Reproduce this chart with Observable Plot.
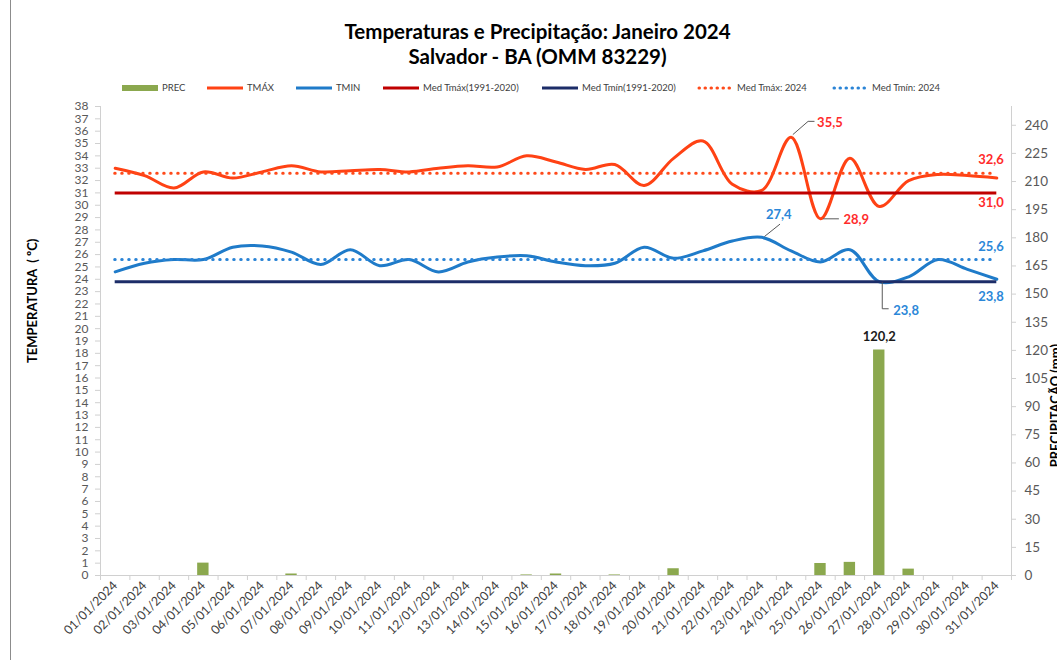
<!DOCTYPE html>
<html><head><meta charset="utf-8">
<script src="https://cdn.jsdelivr.net/npm/d3@7"></script>
<script src="https://cdn.jsdelivr.net/npm/@observablehq/plot@0.6"></script>
<style>
body{margin:0;background:#fff;font-family:Lato,"Liberation Sans",sans-serif;}
#wrap{position:relative;width:1057px;height:660px;overflow:hidden;background:#fff;}
#border{position:absolute;left:10px;top:0;width:0;height:660px;border-left:1px solid #8c8c8c;z-index:5;}
#title{position:absolute;left:0;width:1075px;top:19px;text-align:center;font-weight:bold;font-size:20.5px;line-height:25px;color:#000;}
.leg{position:absolute;top:82px;height:12px;font-size:9.5px;color:#404040;line-height:12px;white-space:nowrap;}
.leg svg{position:absolute;left:0;top:0;}
.leg span{position:absolute;left:40px;top:0;}
#chart{position:absolute;left:0;top:100px;}
</style></head>
<body><div id="wrap">
<div id="title">Temperaturas e Precipitação: Janeiro 2024<br>Salvador - BA (OMM 83229)</div>
<div id="legend"></div>
<div id="chart"></div><div id="border"></div></div>
<script>
// ---- data ----
const days = [1,2,3,4,5,6,7,8,9,10,11,12,13,14,15,16,17,18,19,20,21,22,23,24,25,26,27,28,29,30,31];
const dayLabels = ["01/01/2024","02/01/2024","03/01/2024","04/01/2024","05/01/2024","06/01/2024","07/01/2024","08/01/2024","09/01/2024","10/01/2024","11/01/2024","12/01/2024","13/01/2024","14/01/2024","15/01/2024","16/01/2024","17/01/2024","18/01/2024","19/01/2024","20/01/2024","21/01/2024","22/01/2024","23/01/2024","24/01/2024","25/01/2024","26/01/2024","27/01/2024","28/01/2024","29/01/2024","30/01/2024","31/01/2024"];
const tmax = [33.0,32.4,31.4,32.7,32.2,32.7,33.2,32.7,32.8,32.9,32.7,33.0,33.2,33.1,34.0,33.5,32.9,33.3,31.6,33.8,35.2,31.7,31.2,35.5,28.9,33.8,29.9,32.0,32.5,32.4,32.2];
const tmin = [24.6,25.3,25.6,25.6,26.6,26.7,26.2,25.2,26.4,25.1,25.6,24.6,25.4,25.8,25.9,25.4,25.1,25.3,26.6,25.7,26.3,27.1,27.4,26.3,25.4,26.4,23.8,24.2,25.6,24.8,24.0];
const prec = [0,0,0,6.6,0,0,0.8,0,0,0,0,0,0,0,0.3,0.8,0,0.3,0,3.6,0,0,0,0,6.4,7.0,120.2,3.4,0,0,0];
const medTmax9120 = 31.0;
const medTmin9120 = 23.8;
const medTmax2024 = 32.6;
const medTmin2024 = 25.6;
const tempTicks = [0,1,2,3,4,5,6,7,8,9,10,11,12,13,14,15,16,17,18,19,20,21,22,23,24,25,26,27,28,29,30,31,32,33,34,35,36,37,38];
const precTicks = [0,15,30,45,60,75,90,105,120,135,150,165,180,195,210,225,240];
const tempMax = 38, precMax = 250;
const legendItems = ["PREC","TMÁX","TMIN","Med Tmáx(1991-2020)","Med Tmín(1991-2020)","Med Tmáx: 2024","Med Tmín: 2024"];

// ---- style ----
const C = {prec:"#8ba84e", tmax:"#ff4214", tmin:"#1f7bc9", m1max:"#c00000", m1min:"#1c2d68", m2max:"#ff4a1a", m2min:"#2a84d6", lblRed:"#ff2b2b", lblBlue:"#2b87d8"};
const K = tempMax / precMax;
const W = 1057, H = 560, mL = 100, mR = 46, mT = 6, mB = 85;
const pxX = (W - mL - mR) / days.length, pxY = (H - mT - mB) / tempMax;
const fmt = v => d3.format(".1f")(v).replace(".", ",");
const dot = "0.5,6.5";

// legend
const legKinds = [["rect",C.prec],["line",C.tmax],["line",C.tmin],["line",C.m1max],["line",C.m1min],["dot",C.m2max],["dot",C.m2min]];
const legX = [122, 207, 296, 383, 542, 697, 832];
const legEl = document.getElementById("legend");
legendItems.forEach((lab, i) => {
  const [kind, col] = legKinds[i];
  const d = document.createElement("div");
  d.className = "leg"; d.style.left = legX[i] + "px";
  let sw = "";
  if (kind === "rect") sw = `<rect x="0" y="3" width="36" height="6" fill="${col}"/>`;
  else if (kind === "line") sw = `<line x1="0" x2="36" y1="6" y2="6" stroke="${col}" stroke-width="3"/>`;
  else sw = `<line x1="2" x2="36" y1="6" y2="6" stroke="${col}" stroke-width="3" stroke-dasharray="0.5,5.5" stroke-linecap="round"/>`;
  d.innerHTML = `<svg width="36" height="12">${sw}</svg><span>${lab}</span>`;
  legEl.appendChild(d);
});

const rows = days.map((d, i) => ({day: d, tmax: tmax[i], tmin: tmin[i], prec: prec[i]}));
const maxT = d3.greatest(rows, d => d.tmax);
const minT = d3.least(rows, d => d.tmax);
const maxN = d3.greatest(rows, d => d.tmin);
const minN = d3.least(rows, d => d.tmin);
const maxP = d3.greatest(rows, d => d.prec);
const bounds = d3.range(0.5, days.length + 1, 1);
const first = days[0], last = days[days.length - 1];

function leader(pt, offs) { // offs in pixels
  return offs.map(([ox, oy]) => ({x: pt.x + ox / pxX, y: pt.y - oy / pxY}));
}
const leaders = [
  leader({x: maxT.day, y: maxT.tmax}, [[2,-3],[17,-16],[23,-16]]),
  leader({x: minT.day, y: minT.tmax}, [[3,0],[18,0]]),
  leader({x: maxN.day, y: maxN.tmin}, [[3,-1],[18,-13]]),
  leader({x: minN.day, y: minN.tmin}, [[3,1],[3,27],[9,27]])
];

const lbl = {fontWeight: "bold", fontSize: 13};
const plot = Plot.plot({
  width: W, height: H, marginLeft: mL, marginRight: mR, marginTop: mT, marginBottom: mB,
  style: {fontFamily: "Lato, 'Liberation Sans', sans-serif", background: "transparent", overflow: "visible"},
  x: {type: "linear", domain: [0.5, days.length + 0.5]},
  y: {domain: [0, tempMax]},
  marks: [
    Plot.ruleY([0], {x1: 0.5, x2: days.length + 0.5, stroke: "#d0d0d0", strokeWidth: 1}),
    Plot.ruleX([0.5, days.length + 0.5], {y1: 0, y2: tempMax, stroke: "#d0d0d0", strokeWidth: 1}),
    Plot.axisX(bounds, {tickSize: 5, tickFormat: () => "", stroke: "#d0d0d0"}),
    Plot.axisX(days, {tickSize: 0, tickPadding: 8, tickRotate: -45, textAnchor: "end", tickFormat: d => dayLabels[d - 1], fontSize: 12.5, fill: "#404040"}),
    Plot.axisY(tempTicks, {anchor: "left", tickSize: 5, tickPadding: 7, fontSize: 12, fill: "#595959", stroke: "#d0d0d0", label: null}),
    Plot.axisY(precTicks.map(v => v * K), {anchor: "right", tickSize: 4, tickPadding: 9, fontSize: 13.5, fill: "#595959", stroke: "#d0d0d0", label: null, tickFormat: v => String(Math.round(v / K))}),
    Plot.rectY(rows, {x1: d => d.day - 0.5, x2: d => d.day + 0.5, y1: 0, y2: d => d.prec * K, fill: C.prec, insetLeft: 9, insetRight: 9}),
    Plot.line(rows, {x: "day", y: "tmax", stroke: C.tmax, strokeWidth: 3, curve: "catmull-rom"}),
    Plot.line(rows, {x: "day", y: "tmin", stroke: C.tmin, strokeWidth: 3, curve: "catmull-rom"}),
    Plot.ruleY([medTmax9120], {x1: first, x2: last, stroke: C.m1max, strokeWidth: 3}),
    Plot.ruleY([medTmin9120], {x1: first, x2: last, stroke: C.m1min, strokeWidth: 3}),
    Plot.ruleY([medTmax2024], {x1: first, x2: last, stroke: C.m2max, strokeWidth: 3, strokeDasharray: dot, strokeLinecap: "round"}),
    Plot.ruleY([medTmin2024], {x1: first, x2: last, stroke: C.m2min, strokeWidth: 3, strokeDasharray: dot, strokeLinecap: "round"}),
    ...leaders.map(pts => Plot.line(pts, {x: "x", y: "y", stroke: "#595959", strokeWidth: 1})),
    Plot.text([maxT], {x: "day", y: "tmax", text: d => fmt(d.tmax), dx: 26, dy: -15, textAnchor: "start", fill: C.lblRed, ...lbl}),
    Plot.text([minT], {x: "day", y: "tmax", text: d => fmt(d.tmax), dx: 23, dy: 1, textAnchor: "start", fill: C.lblRed, ...lbl}),
    Plot.text([maxN], {x: "day", y: "tmin", text: d => fmt(d.tmin), dx: 17, dy: -22, textAnchor: "middle", fill: C.lblBlue, ...lbl}),
    Plot.text([minN], {x: "day", y: "tmin", text: d => fmt(d.tmin), dx: 14, dy: 29, textAnchor: "start", fill: C.lblBlue, ...lbl}),
    Plot.text([maxP], {x: "day", y: d => d.prec * K, text: d => fmt(d.prec), dy: -13, fill: "#1a1a1a", ...lbl}),
    Plot.text([medTmax2024], {x: last, y: d => d, text: fmt, dx: 7, dy: -13, textAnchor: "end", fill: C.lblRed, ...lbl}),
    Plot.text([medTmax9120], {x: last, y: d => d, text: fmt, dx: 7, dy: 9.5, textAnchor: "end", fill: C.lblRed, ...lbl}),
    Plot.text([medTmin2024], {x: last, y: d => d, text: fmt, dx: 7, dy: -12.5, textAnchor: "end", fill: C.lblBlue, ...lbl}),
    Plot.text([medTmin9120], {x: last, y: d => d, text: fmt, dx: 7, dy: 15.5, textAnchor: "end", fill: C.lblBlue, ...lbl}),
    Plot.text(["TEMPERATURA  ( ºC)"], {frameAnchor: "left", dx: -68, dy: 22, rotate: -90, fill: "#000", ...lbl}),
    Plot.text(["PRECIPITAÇÃO (mm)"], {frameAnchor: "right", dx: 44, dy: 3, rotate: -90, fill: "#000", ...lbl})
  ]
});
document.getElementById("chart").appendChild(plot);
</script></body></html>
